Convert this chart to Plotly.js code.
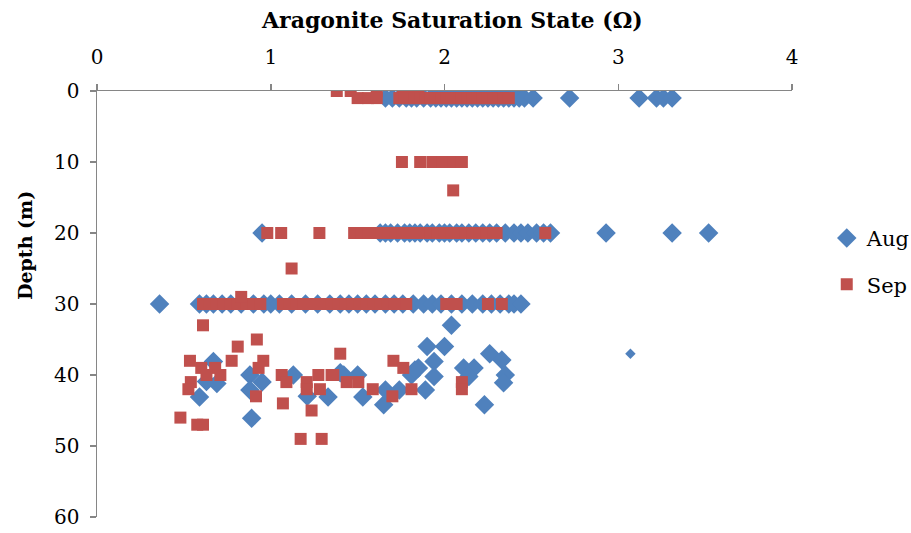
<!DOCTYPE html>
<html>
<head>
<meta charset="utf-8">
<script src="https://cdn.plot.ly/plotly-3.0.1.min.js"></script>
<style>html,body{margin:0;padding:0;background:#fff;}#chart{width:911px;height:533px;}</style>
</head>
<body>
<div id="chart"></div>
<script>
// ---- Data ----
// August: [omega, depth]
const augX_1 = [1.66,1.70,1.74,1.78,1.81,1.84,1.88,1.92,1.95,1.98,2.01,2.04,2.07,2.10,2.13,2.16,2.19,2.22,2.25,2.28,2.31,2.34,2.37,2.40,2.43,2.46,2.51,2.72,3.12,3.22,3.26,3.31];
const augX_20 = [0.95,1.63,1.66,1.69,1.73,1.77,1.80,1.83,1.86,1.90,1.93,1.97,2.00,2.03,2.07,2.10,2.14,2.18,2.22,2.26,2.30,2.35,2.40,2.44,2.48,2.53,2.57,2.61,2.93,3.31,3.52];
const augX_30 = [0.36,0.59,0.63,0.67,0.72,0.77,0.83,0.90,0.96,1.00,1.05,1.12,1.20,1.27,1.34,1.40,1.45,1.50,1.55,1.60,1.66,1.71,1.76,1.82,1.88,1.93,1.98,2.04,2.10,2.16,2.22,2.27,2.32,2.37,2.40,2.44];
const augDeepX = [2.04,1.90,2.00,2.26,2.33,1.94,1.85,2.11,2.17,2.35,1.94,1.81,2.34,2.14,1.89,1.42,1.50,1.53,1.65,1.66,1.74,2.23,1.83,
                  0.67,0.63,0.69,0.59,0.88,0.95,0.88,0.89,1.13,1.21,1.33,1.40];
const augDeepY = [33,36,36,37,37.9,38.1,39,39,39,40,40.2,40,41.1,40.2,42.1,40,40,43.1,44.2,42.1,42.1,44.2,39.3,
                  38.1,40.9,41.2,43.1,40,41,42.1,46.1,40,43,43.1,39.7];
const augSmallX = [3.07];
const augSmallY = [37];

// September: [omega, depth]
const sepX_0 = [1.38,1.46,1.61,1.76,1.80,1.85];
const sepX_1 = [1.50,1.56,1.61,1.74,1.77,1.80,1.83,1.86,1.89,1.92,1.95,1.98,2.01,2.04,2.07,2.10,2.13,2.16,2.19,2.22,2.25,2.28,2.31,2.34,2.37];
const sepX_10 = [1.755,1.86,1.93,1.99,2.05,2.10];
const sepX_20 = [0.98,1.06,1.28,1.48,1.52,1.56,1.60,1.64,1.68,1.72,1.76,1.80,1.84,1.88,1.92,1.96,2.00,2.04,2.08,2.12,2.16,2.20,2.24,2.28,2.30,2.58];
const sepX_30 = [0.61,0.65,0.69,0.73,0.77,0.81,0.86,0.90,0.94,1.07,1.11,1.15,1.19,1.23,1.27,1.31,1.35,1.39,1.43,1.47,1.51,1.55,1.59,1.63,1.67,1.71,1.75,1.78,2.01,2.07,2.25,2.33];
const sepOtherX = [2.05,1.12,0.83,0.61,0.92,0.81,0.535,0.775,0.957,0.60,0.68,0.93,0.63,0.71,1.063,1.274,1.35,0.54,1.09,1.207,0.526,1.207,1.283,0.915,1.07,1.235,0.48,0.577,0.61,1.172,1.293,
                   1.40,1.36,1.437,1.504,1.706,1.763,1.587,1.70,1.81,2.10,2.10];
const sepOtherY = [14,25,29,33,35,36,38,38,38,39,39,39,40,40,40,40,40,41,41,41,42,42,42,43,44,45,46,47,47,49,49,
                   37,40,41,41,38,39,42,43,42,41,42];

const xTitle = 'Aragonite Saturation State (Ω)';
const yTitle = 'Depth (m)';

// ---- Assemble ----
function rep(arr, d){ return arr.map(() => d); }
const augX = [].concat(augX_1, augX_20, augX_30, augDeepX);
const augY = [].concat(rep(augX_1,1), rep(augX_20,20), rep(augX_30,30), augDeepY);
const sepX = [].concat(sepX_0, sepX_1, sepX_10, sepX_20, sepX_30, sepOtherX);
const sepY = [].concat(rep(sepX_0,0), rep(sepX_1,1), rep(sepX_10,10), rep(sepX_20,20), rep(sepX_30,30), sepOtherY);

const AUG = '#4F81BD', SEP = '#C0504D';
const FONT = 'DejaVu Serif, Liberation Serif, serif';

const traces = [
  {x: augX, y: augY, type: 'scatter', mode: 'markers', name: 'Aug', legendgroup: 'a',
   marker: {symbol: 'diamond', size: 15, color: AUG}},
  {x: sepX, y: sepY, type: 'scatter', mode: 'markers', name: 'Sep', legendgroup: 'b',
   marker: {symbol: 'square', size: 12, color: SEP}},
  {x: augSmallX, y: augSmallY, type: 'scatter', mode: 'markers', name: 'Aug', showlegend: false,
   marker: {symbol: 'diamond', size: 8, color: AUG}}
];

const layout = {
  width: 911, height: 533,
  margin: {l: 97, r: 119, t: 91, b: 16, autoexpand: false},
  paper_bgcolor: '#fff', plot_bgcolor: '#fff',
  font: {family: FONT, size: 20, color: '#000'},
  showlegend: true,
  legend: {x: 1.05, y: 0.60, xanchor: 'left', yanchor: 'middle', tracegroupgap: 16,
           font: {family: FONT, size: 21, color: '#000'}, bgcolor: 'rgba(0,0,0,0)'},
  xaxis: {
    side: 'top', range: [0, 4], dtick: 1, tick0: 0,
    showgrid: false, zeroline: false, showline: true, linecolor: '#868686', linewidth: 1.5,
    ticks: 'outside', ticklen: 6, tickcolor: '#868686', tickwidth: 1.5,
    ticklabelstandoff: 12,
    tickfont: {family: FONT, size: 20}
  },
  yaxis: {
    range: [60, 0], dtick: 10, tick0: 0,
    showgrid: false, zeroline: false, showline: true, linecolor: '#868686', linewidth: 1.5,
    ticks: 'outside', ticklen: 6, tickcolor: '#868686', tickwidth: 1.5,
    ticklabelstandoff: 6,
    tickfont: {family: FONT, size: 20}
  },
  annotations: [
    {text: '<b>' + xTitle + '</b>', xref: 'paper', yref: 'paper',
     x: (452 - 97) / 695, y: (517 - 20) / 426, xanchor: 'center', yanchor: 'middle',
     showarrow: false, font: {family: FONT, size: 22, color: '#000'}},
    {text: '<b>' + yTitle + '</b>', xref: 'paper', yref: 'paper', textangle: -90,
     x: (25 - 97) / 695, y: (517 - 246) / 426, xanchor: 'center', yanchor: 'middle',
     showarrow: false, font: {family: FONT, size: 19, color: '#000'}}
  ]
};

Plotly.newPlot('chart', traces, layout, {displayModeBar: false, staticPlot: true});
</script>
</body>
</html>
